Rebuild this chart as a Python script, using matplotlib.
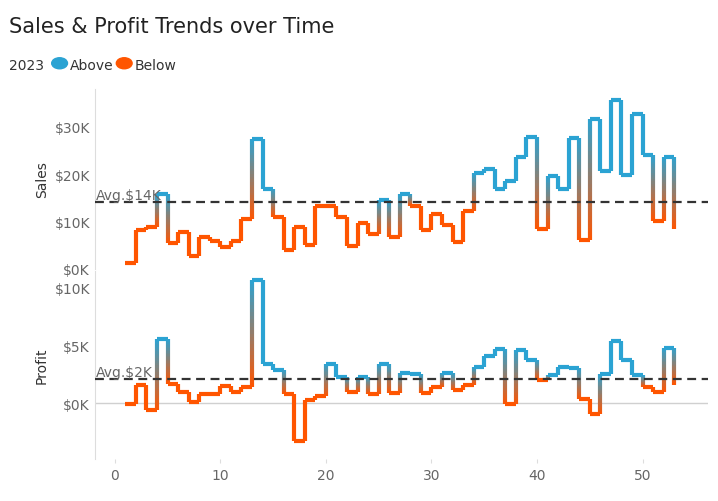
"""Sales & Profit step chart, coloured above/below the average"""
import numpy as np
import matplotlib
matplotlib.use("Agg")
import matplotlib.pyplot as plt
from matplotlib.collections import LineCollection
from matplotlib.colors import to_rgb

weeks = list(range(1, 54))
sales = [1.0, 8.1, 8.8, 15.7, 5.3, 7.6, 2.6, 6.7, 5.7, 4.5, 5.7, 10.4, 27.4, 16.9, 10.9,
         3.8, 8.7, 5.0, 13.1, 13.3, 10.8, 4.7, 9.6, 7.2, 14.5, 6.7, 15.7, 13.3, 8.1, 11.5,
         9.1, 5.6, 12.1, 20.2, 21.1, 16.9, 18.6, 23.7, 27.8, 8.4, 19.5, 16.8, 27.6, 5.9,
         31.7, 20.7, 35.7, 19.8, 32.8, 24.0, 10.1, 23.7, 8.4]
profit = [-0.1, 1.6, -0.6, 5.5, 1.7, 1.0, 0.1, 0.8, 0.8, 1.5, 1.0, 1.4, 10.6, 3.4, 2.9,
          0.8, -3.3, 0.3, 0.6, 3.4, 2.3, 1.0, 2.3, 0.8, 3.4, 0.9, 2.6, 2.5, 0.9, 1.4,
          2.6, 1.1, 1.6, 3.1, 4.1, 4.7, -0.1, 4.6, 3.7, 2.0, 2.4, 3.1, 3.0, 0.4,
          -0.9, 2.5, 5.4, 3.7, 2.4, 1.4, 1.0, 4.8, 1.6]
sales_avg = 14.0
profit_avg = 2.1

BLUE = np.array(to_rgb("#2ba3d3"))
ORANGE = np.array(to_rgb("#ff5500"))


def step_collection(x, y, avg):
    segs, cols = [], []
    for i in range(len(x) - 1):
        # horizontal part
        segs.append([(x[i], y[i]), (x[i + 1], y[i])])
        cols.append(BLUE if y[i] >= avg else ORANGE)
        # vertical part, blended if it crosses the average
        lo, hi = sorted((y[i], y[i + 1]))
        crosses = lo < avg < hi
        n = 30
        ys = np.linspace(lo, hi, n + 1)
        for k in range(n):
            segs.append([(x[i + 1], ys[k]), (x[i + 1], ys[k + 1])])
            if crosses:
                t = (k + 0.5) / n
                cols.append(ORANGE * (1 - t) + BLUE * t)
            else:
                cols.append(BLUE if lo >= avg else ORANGE)
    return LineCollection(segs, colors=cols, linewidths=3, capstyle="butt",
                          joinstyle="miter")


fig = plt.figure(figsize=(7.18, 5.02), dpi=100)
ax1 = fig.add_axes([0.132, 0.462, 0.854, 0.359])
ax2 = fig.add_axes([0.132, 0.084, 0.854, 0.374])

for ax, data, avg, lab in [(ax1, sales, sales_avg, "Sales"), (ax2, profit, profit_avg, "Profit")]:
    ax.add_collection(step_collection(weeks, data, avg))
    ax.axhline(avg, color="#333333", ls=(0, (4, 2.5)), lw=1.6, zorder=3)
    ax.text(-1.8, avg + 0.02 * (ax.get_ylim()[1] if False else 1), "Avg.$%dK" % round(avg),
            color="#666666", fontsize=10, va="bottom")
    ax.set_xlim(-1.9, 56.2)
    ax.set_ylabel(lab, color="#333333", fontsize=10)
    for s in ["top", "right", "bottom"]:
        ax.spines[s].set_visible(False)
    ax.spines["left"].set_color("#dddddd")
    ax.tick_params(axis="y", length=0, labelcolor="#666666", labelsize=10)

ax1.set_ylim(-0.2, 38.1)
ax1.set_yticks([0, 10, 20, 30])
ax1.set_yticklabels(["$0K", "$10K", "$20K", "$30K"])
ax1.set_xticks([])

ax2.set_ylim(-4.8, 11.4)
ax2.set_yticks([0, 5, 10])
ax2.set_yticklabels(["$0K", "$5K", "$10K"])
ax2.axhline(0, color="#d0d0d0", lw=1, zorder=1)
ax2.set_xticks([0, 10, 20, 30, 40, 50])
ax2.tick_params(axis="x", length=3, color="#dddddd", labelcolor="#666666", labelsize=10)

fig.text(0.013, 0.935, "Sales & Profit Trends over Time", fontsize=15, color="#222222")
fig.text(0.013, 0.861, "2023", fontsize=10, color="#333333")
fig.scatter([0.083], [0.872], s=110, color=BLUE, transform=fig.transFigure) if hasattr(fig, "scatter") else None
fig.add_artist(plt.Circle((0.083, 0.872), 0.011, color=BLUE, transform=fig.transFigure))
fig.text(0.098, 0.861, "Above", fontsize=10, color="#333333")
fig.add_artist(plt.Circle((0.173, 0.872), 0.011, color=ORANGE, transform=fig.transFigure))
fig.text(0.188, 0.861, "Below", fontsize=10, color="#333333")

fig.savefig("out.png", dpi=100)
